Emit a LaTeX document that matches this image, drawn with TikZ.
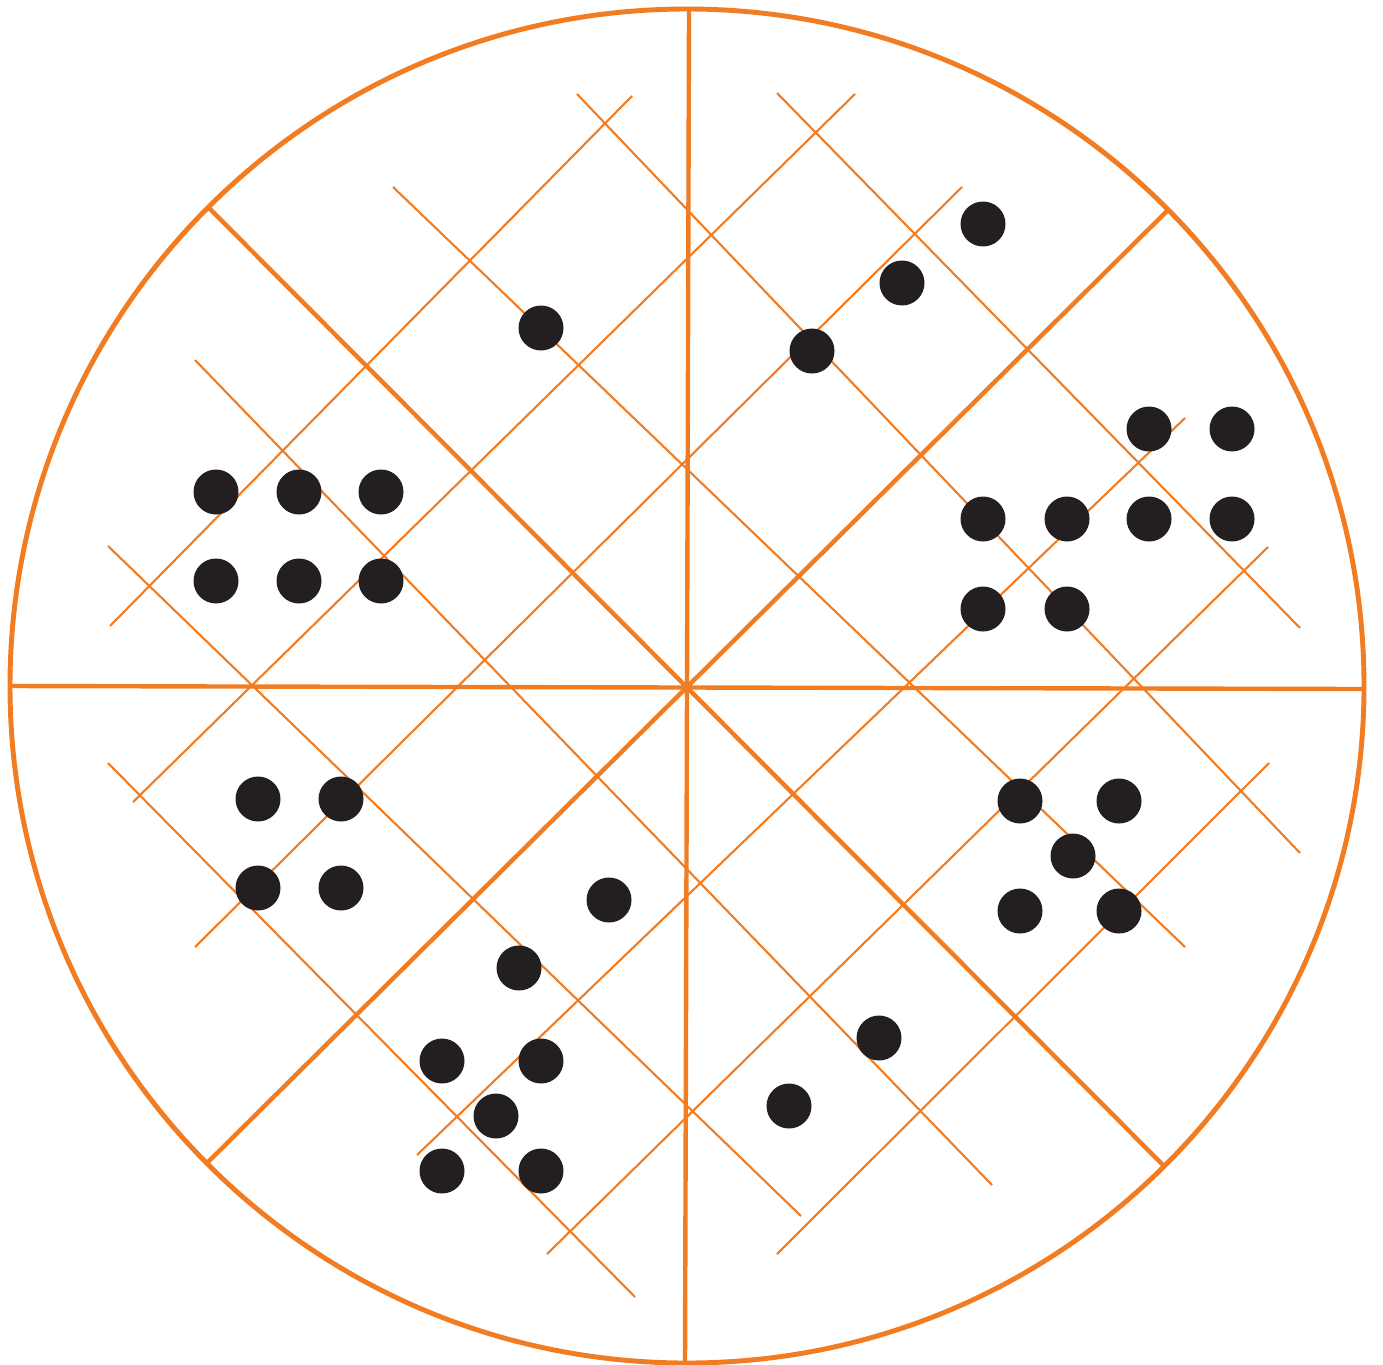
\documentclass[tikz,border=0pt]{standalone}
\usepackage{tikz}
\usepackage{xcolor}

\definecolor{rimorange}{RGB}{242,124,34}
\definecolor{pipblack}{RGB}{35,31,32}

\begin{document}
\begin{tikzpicture}[x=0.01cm, y=-0.01cm,
    rim/.style={rimorange, line width=1.4pt},
    spoke/.style={rimorange, line width=1.25pt},
    gridline/.style={rimorange, line width=0.6pt},
    pip/.style={fill=pipblack}]
      \useasboundingbox (0,0) rectangle (1383,1364);

      % rim and spokes
      \draw[rim] (687,686) circle (677);
      \draw[spoke] (689,11) -- (685,1362);
      \draw[spoke] (9,686) -- (1364,689);
      \draw[spoke] (209,208) -- (1165,1167);
      \draw[spoke] (1167,211) -- (207,1163);

      % thin lines, rising to the right
      \foreach \xa/\ya/\xb/\yb in {110/626/632/96, 133/802/855/94, 195/947/962/187,
                                   417/1155/1185/418, 547/1254/1268/547, 777/1254/1269/763}
        \draw[gridline] (\xa,\ya) -- (\xb,\yb);

      % thin lines, falling to the right
      \foreach \xa/\ya/\xb/\yb in {577/94/1300/853, 777/93/1300/628, 393/187/1185/947,
                                   195/360/992/1185, 108/546/801/1216, 108/763/635/1297}
        \draw[gridline] (\xa,\ya) -- (\xb,\yb);

      % pips: 1
      \fill[pip] (541,328) circle (22.5);
      % 3
      \foreach \x/\y in {812/351, 902/283, 983/224}
        \fill[pip] (\x,\y) circle (22.5);
      % 8
      \foreach \x/\y in {1149/429, 1232/429, 983/519, 1067/519, 1149/519, 1232/519, 983/609, 1067/609}
        \fill[pip] (\x,\y) circle (22.5);
      % 5
      \foreach \x/\y in {1020/801, 1119/801, 1073/856, 1020/911, 1119/911}
        \fill[pip] (\x,\y) circle (22.5);
      % 2
      \foreach \x/\y in {879/1038, 789/1106}
        \fill[pip] (\x,\y) circle (22.5);
      % 7
      \foreach \x/\y in {609/900, 519/968, 442/1061, 541/1061, 496/1116, 442/1171, 541/1171}
        \fill[pip] (\x,\y) circle (22.5);
      % 4
      \foreach \x/\y in {258/799, 341/799, 258/888, 341/888}
        \fill[pip] (\x,\y) circle (22.5);
      % 6
      \foreach \x/\y in {216/492, 299/492, 381/492, 216/581, 299/581, 381/581}
        \fill[pip] (\x,\y) circle (22.5);
    \end{tikzpicture}
\end{document}
